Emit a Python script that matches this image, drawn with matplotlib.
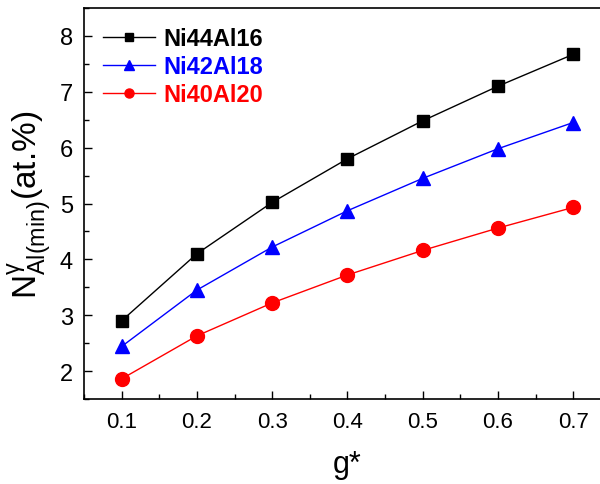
# N_Al(min) vs g* for three alloys
import numpy as np
import matplotlib
matplotlib.use('Agg')
import matplotlib.pyplot as plt
from matplotlib.ticker import MultipleLocator

plt.rcParams['font.family'] = ['Liberation Sans', 'DejaVu Sans']
plt.rcParams['mathtext.fontset'] = 'custom'
plt.rcParams['mathtext.rm'] = 'Liberation Sans'
plt.rcParams['mathtext.it'] = 'Liberation Sans:italic'

# ----------------------------------------------------------
g = [0.1, 0.2, 0.3, 0.4, 0.5, 0.6, 0.7]
ni44 = [2.90, 4.10, 5.02, 5.80, 6.48, 7.10, 7.67]
ni42 = [2.44, 3.45, 4.22, 4.87, 5.45, 5.98, 6.45]
ni40 = [1.86, 2.63, 3.22, 3.72, 4.16, 4.56, 4.93]
names = ['Ni44Al16', 'Ni42Al18', 'Ni40Al20']
colors = ['black', 'blue', 'red']
markers = ['s', '^', 'o']

fig = plt.figure(figsize=(6.0, 4.85), dpi=100, facecolor='w')
ax = fig.add_axes([0.14, 0.1753, 0.878, 0.8061])

for y, nm, c, m in zip([ni44, ni42, ni40], names, colors, markers):
    ax.plot(g, y, '-', color=c, marker=m, lw=1.0, ms=10 if m != 's' else 9,
            label=nm)

ax.set_xlim(0.05, 0.75)
ax.set_ylim(1.5, 8.5)
ax.xaxis.set_major_locator(MultipleLocator(0.1))
ax.xaxis.set_minor_locator(MultipleLocator(0.05))
ax.yaxis.set_major_locator(MultipleLocator(1))
ax.yaxis.set_minor_locator(MultipleLocator(0.5))
ax.tick_params(which='major', direction='in', length=6, width=1)
ax.tick_params(which='minor', direction='in', length=3.5, width=1)
ax.tick_params(axis='x', labelsize=16, pad=9)
ax.tick_params(axis='y', labelsize=17, pad=8)
for s in ax.spines.values():
    s.set_linewidth(1.2)

ax.set_xlabel('g*', fontsize=22, labelpad=12)
ax.set_ylabel(r'N$^{\mathrm{γ}}_{\mathrm{Al(min)}}$(at.%)', fontsize=24, labelpad=4)

leg = ax.legend(loc='upper left', frameon=False, prop={'weight': 'bold', 'size': 17},
                handlelength=2.2, handletextpad=0.35, labelspacing=0.22,
                borderaxespad=0.4, markerscale=0.65)
for t, c in zip(leg.get_texts(), colors):
    t.set_color(c)

fig.savefig('out.png', dpi=100)
# ----------------------------------------------------------
